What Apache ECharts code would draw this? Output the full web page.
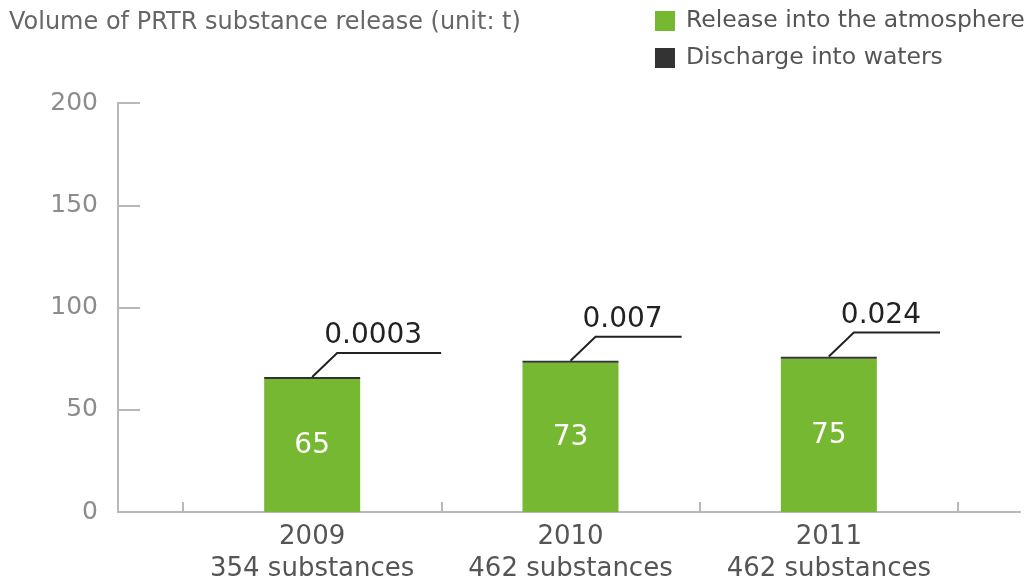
<!DOCTYPE html>
<html>
<head>
<meta charset="utf-8">
<script src="https://cdn.jsdelivr.net/npm/echarts@6/dist/echarts.min.js"></script>
<style>
  html, body { margin: 0; padding: 0; background: #fff; }
  #chart { width: 1035px; height: 582px; }
</style>
</head>
<body>
<div id="chart"></div>
<script>
// PRTR substance release by fiscal year (unit: t)
const years = ['2009', '2010', '2011'];
const substanceCounts = ['354 substances', '462 substances', '462 substances'];
const atmosphere = [65, 73, 75];
const waters = [0.0003, 0.007, 0.024];
const yTicks = { min: 0, max: 200, interval: 50 };

const FONT = 'DejaVu Sans';
const GREEN = '#77b833';
const DARK = '#333333';
const AXIS = '#b8b8b8';
const CALLOUT_SIZE = 28;

const chart = echarts.init(document.getElementById('chart'));

const measureCtx = document.createElement('canvas').getContext('2d');
function textWidth(str, size) {
  measureCtx.font = size + 'px "' + FONT + '"';
  return measureCtx.measureText(str).width;
}

// callout: a leader line from the top of each stack to a shelf carrying the water value
function renderCallout(params, api) {
  const idx = api.value(0);
  const top = api.coord([idx, api.value(1) + api.value(2)]);
  const text = String(waters[idx]);
  const w = textWidth(text, CALLOUT_SIZE);
  const x = top[0], y = top[1] - 2;
  return {
    type: 'group',
    children: [
      {
        type: 'polyline',
        shape: { points: [[x, y], [x + 25, y - 24], [x + 25 + w + 6, y - 24]] },
        style: { stroke: '#222', lineWidth: 2, fill: null }
      },
      {
        type: 'text',
        style: {
          x: x + 12, y: y - 27,
          text: text,
          font: CALLOUT_SIZE + 'px "' + FONT + '"',
          fill: '#222',
          textAlign: 'left',
          textVerticalAlign: 'bottom'
        }
      }
    ]
  };
}

const option = {
  animation: false,
  textStyle: { fontFamily: FONT },
  title: {
    text: 'Volume of PRTR substance release (unit: t)',
    left: 9, top: 11, padding: 0,
    textStyle: { fontFamily: FONT, fontSize: 24, fontWeight: 'normal', color: '#666' }
  },
  legend: {
    orient: 'vertical',
    left: 655, top: 9, padding: 0,
    itemWidth: 20, itemHeight: 20, itemGap: 13,
    icon: 'rect',
    data: ['Release into the atmosphere', 'Discharge into waters'],
    textStyle: { fontFamily: FONT, fontSize: 23.5, color: '#555', padding: [0, 0, 0, 6] }
  },
  grid: [
    { left: 118, right: 15, top: 103, bottom: 70, outerBoundsMode: 'none' },
    { left: 183, right: 77, top: 103, bottom: 70, outerBoundsMode: 'none' }
  ],
  xAxis: [
    {
      type: 'value', gridIndex: 0, min: 0, max: 1,
      axisLine: { show: true, onZero: false, lineStyle: { color: AXIS, width: 2 } },
      axisTick: { show: false }, axisLabel: { show: false }, splitLine: { show: false }
    },
    {
      type: 'category', gridIndex: 1, data: years,
      axisLine: { show: true, lineStyle: { color: AXIS, width: 2 } },
      axisTick: { show: true, inside: true, interval: 0, length: 10, lineStyle: { color: AXIS, width: 2 } },
      axisLabel: {
        interval: 0,
        hideOverlap: false,
        margin: 9,
        color: '#555',
        fontFamily: FONT,
        fontSize: 26,
        lineHeight: 32,
        formatter: (v, i) => v + '\n' + substanceCounts[i]
      }
    }
  ],
  yAxis: [
    {
      type: 'value', gridIndex: 0,
      min: yTicks.min, max: yTicks.max, interval: yTicks.interval,
      axisLine: { show: true, lineStyle: { color: AXIS, width: 2 } },
      axisTick: { show: true, inside: true, length: 22, lineStyle: { color: AXIS, width: 2 } },
      axisLabel: { margin: 20, color: '#8c8c8c', fontFamily: FONT, fontSize: 25 },
      splitLine: { show: false }
    },
    {
      type: 'value', gridIndex: 1,
      min: yTicks.min, max: yTicks.max, interval: yTicks.interval,
      show: false
    }
  ],
  series: [
    {
      name: 'Release into the atmosphere',
      type: 'bar', stack: 'release',
      xAxisIndex: 1, yAxisIndex: 1,
      barWidth: 96,
      itemStyle: { color: GREEN },
      label: {
        show: true, position: 'inside',
        color: '#fff', fontFamily: FONT, fontSize: 28
      },
      data: atmosphere
    },
    {
      name: 'Discharge into waters',
      type: 'bar', stack: 'release',
      xAxisIndex: 1, yAxisIndex: 1,
      barWidth: 96,
      barMinHeight: 2,
      itemStyle: { color: DARK },
      data: waters
    },
    {
      name: 'callout',
      type: 'custom',
      xAxisIndex: 1, yAxisIndex: 1,
      renderItem: renderCallout,
      encode: { x: 0, y: 1 },
      data: years.map((y, i) => [i, atmosphere[i], waters[i]]),
      z: 5
    }
  ]
};

chart.setOption(option);
</script>
</body>
</html>
